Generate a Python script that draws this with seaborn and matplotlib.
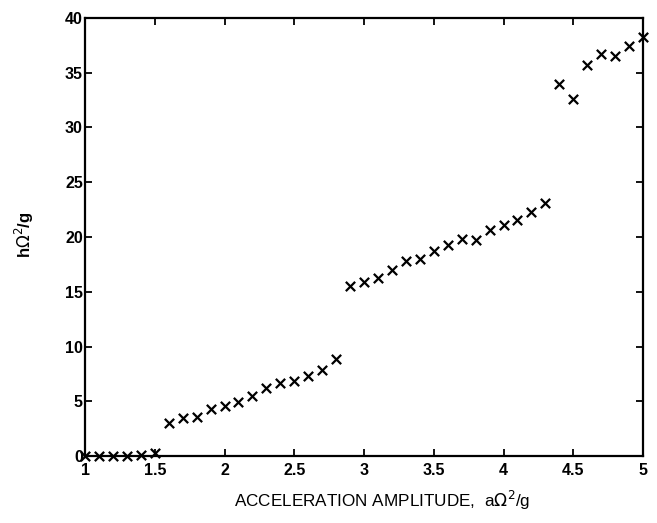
import matplotlib
matplotlib.use("Agg")
import matplotlib.pyplot as plt
import seaborn as sns
import pandas as pd

# Dimensionless acceleration amplitude a*Omega^2/g
amplitude = [1.0, 1.1, 1.2, 1.3, 1.4, 1.5, 1.6, 1.7, 1.8, 1.9,
             2.0, 2.1, 2.2, 2.3, 2.4, 2.5, 2.6, 2.7, 2.8, 2.9,
             3.0, 3.1, 3.2, 3.3, 3.4, 3.5, 3.6, 3.7, 3.8, 3.9,
             4.0, 4.1, 4.2, 4.3, 4.4, 4.5, 4.6, 4.7, 4.8, 4.9, 5.0]
# Dimensionless height h*Omega^2/g
height = [0.0, 0.0, 0.0, 0.0, 0.1, 0.3, 3.05, 3.5, 3.6, 4.3,
          4.55, 4.9, 5.5, 6.2, 6.7, 6.85, 7.3, 7.85, 8.9, 15.55,
          15.9, 16.3, 17.0, 17.8, 18.0, 18.75, 19.25, 19.8, 19.75, 20.6,
          21.1, 21.55, 22.3, 23.1, 33.95, 32.6, 35.7, 36.7, 36.55, 37.4, 38.25]

xticks = [1, 1.5, 2, 2.5, 3, 3.5, 4, 4.5, 5]
xticklabels = ["1", "1.5", "2", "2.5", "3", "3.5", "4", "4.5", "5"]
yticks = [0, 5, 10, 15, 20, 25, 30, 35, 40]

df = pd.DataFrame({"amp": amplitude, "h": height})

sns.set_theme(style="ticks")
plt.rcParams["font.family"] = ["Liberation Sans", "DejaVu Sans"]
plt.rcParams["mathtext.fontset"] = "dejavusans"

fig = plt.figure(figsize=(6.57, 5.23), dpi=100)
ax = fig.add_axes([0.1294, 0.1281, 0.8493, 0.8375])

sns.scatterplot(data=df, x="amp", y="h", marker="x", s=45, color="black",
                linewidth=1.6, ax=ax, zorder=3, clip_on=False)

ax.set_xlim(1, 5)
ax.set_ylim(0, 40)
ax.set_xticks(xticks)
ax.set_xticklabels(xticklabels)
ax.set_yticks(yticks)

for side in ["left", "right", "top", "bottom"]:
    ax.spines[side].set_visible(True)
    ax.spines[side].set_linewidth(1.6)
    ax.spines[side].set_color("black")

ax.tick_params(direction="in", length=5, width=1.3, top=True, right=True,
               labelsize=11.5, colors="black")
ax.tick_params(axis="x", pad=5)
ax.tick_params(axis="y", pad=1.5)
for lbl in ax.get_xticklabels() + ax.get_yticklabels():
    lbl.set_fontweight("bold")

ax.set_xlabel(r"ACCELERATION AMPLITUDE,  a$\Omega^2$/g", fontsize=12.3,
              color="black")
ax.xaxis.set_label_coords(0.532, -0.074)
ax.set_ylabel(r"h$\Omega^2$/g", fontsize=12, fontweight="bold",
              color="black")
ax.yaxis.set_label_coords(-0.088, 0.505)

fig.savefig("out.png", dpi=100, facecolor="white")
